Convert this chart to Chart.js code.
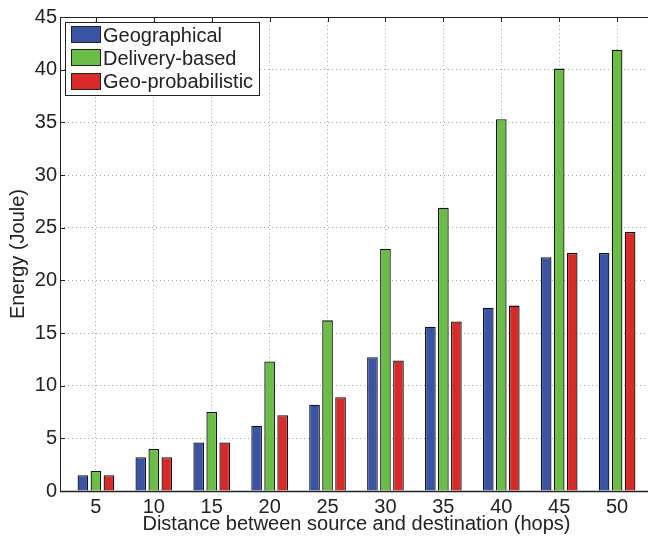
<!DOCTYPE html>
<html>
<head>
<meta charset="utf-8">
<script src="https://cdn.jsdelivr.net/npm/chart.js@4"></script>
<style>
html, body { margin: 0; padding: 0; overflow: hidden; background: #fff; }
</style>
</head>
<body>
<canvas id="myChart" width="656" height="537"></canvas>
<script>
var hops = [5, 10, 15, 20, 25, 30, 35, 40, 45, 50];
var geographical = [1.5, 3.2, 4.6, 6.2, 8.2, 12.7, 15.6, 17.4, 22.2, 22.6];
var deliveryBased = [1.9, 4.0, 7.5, 12.3, 16.2, 23.0, 26.9, 35.3, 40.1, 41.9];
var geoProbabilistic = [1.5, 3.2, 4.6, 7.2, 8.9, 12.4, 16.1, 17.6, 22.6, 24.6];
var seriesNames = ['Geographical', 'Delivery-based', 'Geo-probabilistic'];
var seriesColors = ['#3a53a4', '#6abd45', '#d92a2a'];
var yTicks = [0, 5, 10, 15, 20, 25, 30, 35, 40, 45];

var FONT = '"Liberation Sans", Arial, Helvetica, sans-serif';
var TXT = '#222';

function pts(vals) {
   return hops.map(function (h, i) { return { x: h, y: vals[i] }; });
}

// MATLAB style box, inward ticks and legend inside the axes
var frame = {
   id: 'frame',
   afterDatasetsDraw: function (chart) {
      var c = chart.ctx, a = chart.chartArea, x = chart.scales.x, y = chart.scales.y;
      c.save();
      c.strokeStyle = TXT;
      c.lineWidth = 1;
      c.beginPath();
      hops.forEach(function (v) {
         var px = Math.round(x.getPixelForValue(v)) + 0.5;
         c.moveTo(px, a.top); c.lineTo(px, a.top + 5);
      });
      yTicks.forEach(function (v) {
         var py = Math.round(y.getPixelForValue(v)) + 0.5;
         c.moveTo(a.left, py); c.lineTo(a.left + 5, py);
         c.moveTo(a.right, py); c.lineTo(a.right - 5, py);
      });
      c.stroke();
      c.strokeRect(Math.round(a.left) + 0.5, Math.round(a.top) + 0.5,
                   Math.round(a.right - a.left), Math.round(a.bottom - a.top));
      c.beginPath();
      c.lineWidth = 1.5;
      c.moveTo(a.left, Math.round(a.bottom) + 0.5);
      c.lineTo(a.right, Math.round(a.bottom) + 0.5);
      c.stroke();
      c.lineWidth = 1;

      // legend
      var lx = a.left + 5, ly = a.top + 5, lw = 194, lh = 73;
      c.fillStyle = '#fff';
      c.fillRect(lx + 0.5, ly + 0.5, lw, lh);
      c.strokeRect(lx + 0.5, ly + 0.5, lw, lh);
      c.font = '20px ' + FONT;
      c.textBaseline = 'middle';
      seriesNames.forEach(function (name, i) {
         var cy = ly + 13 + i * 23.3;
         c.fillStyle = seriesColors[i];
         c.fillRect(lx + 6, Math.round(cy - 9), 30, 17);
         c.strokeStyle = '#222';
         c.strokeRect(lx + 6.5, Math.round(cy - 9) + 0.5, 29, 16);
         c.fillStyle = TXT;
         c.fillText(name, lx + 38, cy + 1);
      });
      c.restore();
   }
};

var allSeries = [geographical, deliveryBased, geoProbabilistic];

var chrt = document.getElementById('myChart').getContext('2d');
var chartId = new Chart(chrt, {
   type: 'bar',
   data: {
      datasets: allSeries.map(function (vals, i) {
         return {
            label: seriesNames[i],
            data: pts(vals),
            backgroundColor: seriesColors[i],
            borderColor: '#111',
            borderWidth: 1.3,
            inflateAmount: 0,
            categoryPercentage: 0.674,
            barPercentage: 0.82
         };
      })
   },
   options: {
      responsive: false,
      animation: false,
      layout: { padding: { top: 17, right: 3, left: 0, bottom: 0 } },
      plugins: {
         legend: { display: false },
         tooltip: { enabled: false }
      },
      scales: {
         x: {
            type: 'linear',
            offset: false,
            min: 1.9,
            max: 53.1,
            afterBuildTicks: function (s) {
               s.ticks = hops.map(function (v) { return { value: v }; });
            },
            afterFit: function (s) { s.height = 46; },
            grid: {
               offset: false,
               color: '#aaa',
               drawTicks: false
            },
            border: { display: false, dash: [1, 3] },
            ticks: {
               padding: 4,
               color: TXT,
               font: { family: FONT, size: 20 },
               maxRotation: 0,
               autoSkip: false
            },
            title: {
               display: true,
               text: 'Distance between source and destination (hops)',
               color: TXT,
               font: { family: FONT, size: 20 },
               padding: { top: 0, bottom: 1 }
            }
         },
         y: {
            min: 0,
            max: 45,
            afterBuildTicks: function (s) {
               s.ticks = yTicks.map(function (v) { return { value: v }; });
            },
            afterFit: function (s) { s.width = 60; },
            grid: {
               color: function (ctx) {
                  var v = ctx.tick && ctx.tick.value;
                  return (v === 0 || v === 45) ? 'rgba(0,0,0,0)' : '#aaa';
               },
               drawTicks: false
            },
            border: { display: false, dash: [1, 3] },
            ticks: {
               padding: 3,
               color: TXT,
               font: { family: FONT, size: 20 }
            },
            title: {
               display: true,
               text: 'Energy (Joule)',
               color: TXT,
               font: { family: FONT, size: 20 },
               padding: { top: 6, bottom: 0 }
            }
         }
      }
   },
   plugins: [frame]
});
</script>
</body>
</html>
